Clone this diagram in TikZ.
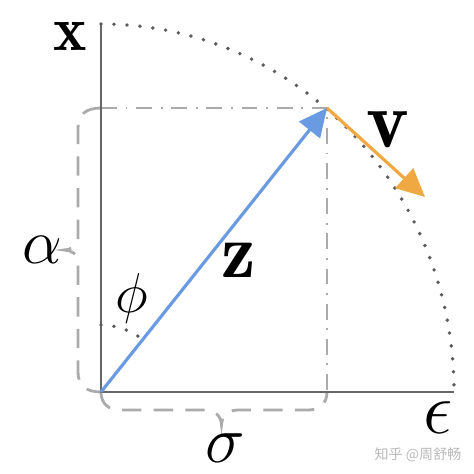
\RequirePackage{fix-cm}
\documentclass[tikz,border=0pt]{standalone}
\usepackage{amsmath,amsfonts}
\usepackage{fontspec}
\newfontfamily\cjkfont{Noto Sans CJK SC}
\usepackage{tikz}
\usetikzlibrary{calc,arrows.meta}

\definecolor{axisgray}{HTML}{666666}
\definecolor{guidegray}{HTML}{ABABAB}
\definecolor{zblue}{HTML}{6A9BE2}
\definecolor{vorange}{HTML}{F0A842}

\begin{document}
\begin{tikzpicture}[
axis/.style = {draw=axisgray, line width=1.7pt},
guide/.style = {draw=guidegray, line width=1.5pt,
	dash pattern=on 9pt off 5pt on 1pt off 5pt},
dots/.style = {draw=axisgray!90!black, line width=2.2pt, line cap=round,
	dash pattern=on 0pt off 7.4pt},
bracket/.style = {draw=guidegray, line width=1.6pt,
	dash pattern=on 11pt off 7pt},
vec/.style = {draw=#1, line width=1.8pt,
	-{Triangle[length=16pt, width=15pt]}},
sym/.style = {inner sep=0pt, font=\fontsize{#1}{#1}\selectfont},
wmark/.style = {inner sep=0pt, text=gray!55, font=\cjkfont\fontsize{8}{10}\selectfont}
]
\useasboundingbox (-2.02,-1.64) rectangle (7.46,7.84);
% Points of the picture
\coordinate (O) at (0,0);
\coordinate (X) at (0,7.36);
\coordinate (E) at (7.06,0);
\coordinate (Z) at (4.52,5.68);
\coordinate (V) at (6.48,3.90);
\coordinate (Zx) at (O|-Z);
\coordinate (Ze) at (Z|-O);

% Draw the guide lines and the braces
\draw[guide] (Zx) -- (Z) -- (Ze);
\draw[bracket] (Zx) .. controls (-0.3,5.68) and (-0.46,5.55) .. (-0.46,5.28)
	-- (-0.46,3.04) .. controls (-0.46,2.92) and (-0.62,2.84) .. (-0.74,2.84)
	.. controls (-0.62,2.84) and (-0.46,2.76) .. (-0.46,2.64)
	-- (-0.46,0.40) .. controls (-0.46,0.13) and (-0.3,0) .. (O);
\draw[bracket] (O) .. controls (0,-0.22) and (0.14,-0.36) .. (0.38,-0.36)
	-- (2.08,-0.36) .. controls (2.26,-0.36) and (2.40,-0.46) .. (2.41,-0.66)
	.. controls (2.42,-0.46) and (2.56,-0.36) .. (2.74,-0.36)
	-- (4.14,-0.36) .. controls (4.38,-0.36) and (4.52,-0.22) .. (Ze);

% Draw the axes and the dotted arcs
\draw[axis] (X) -- (O) -- (E);
\draw[dots] (X) arc[start angle=90, end angle=0, x radius=7.06cm, y radius=7.36cm];
\draw[dots] (0,1.34) arc[start angle=90, end angle=51.5, radius=1.34cm];

% Draw the two vectors
\draw[vec=zblue] (O) -- (Z);
\draw[vec=vorange] (Z) -- (V);

% Labels
\node[sym=36] (x-lab) at (-0.62,7.12) {$\mathbf{x}$};
\node[sym=44] (z-lab) at (2.76,2.64) {$\mathbf{z}$};
\node[sym=46] (v-lab) at (5.74,5.24) {$\mathbf{v}$};
\node[sym=36] (alpha-lab) at (-1.18,2.84) {$\alpha$};
\node[sym=32] (phi-lab) at (0.62,1.88) {$\phi$};
\node[sym=38] (sigma-lab) at (2.48,-1.12) {$\sigma$};
\node[sym=42] (eps-lab) at (6.74,-0.52) {$\epsilon$};
\node[wmark] (wm) at (6.34,-1.26) {知乎 @周舒畅};
\end{tikzpicture}
\end{document}
